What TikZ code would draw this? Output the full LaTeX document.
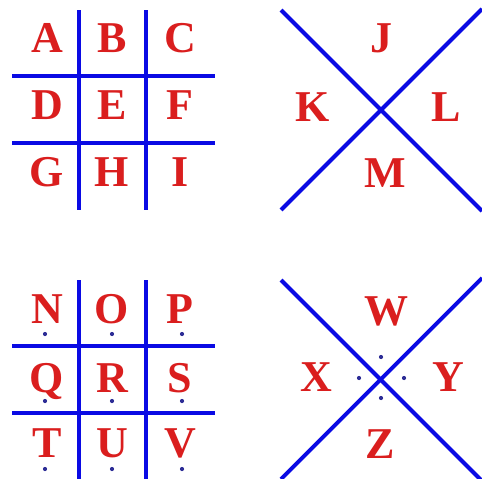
\documentclass[tikz,border=0pt]{standalone}
\usepackage{fontspec}
\setmainfont{Liberation Serif}
\definecolor{letred}{RGB}{218,30,30}
\definecolor{lineblue}{RGB}{10,10,228}
\definecolor{dotblue}{RGB}{45,45,150}
\begin{document}
\begin{tikzpicture}[x=1pt,y=-1pt,
  letter/.style={anchor=base,inner sep=0pt,text=letred,font=\fontsize{44}{44}\selectfont\bfseries},
  gridline/.style={draw=lineblue,line width=3.9pt},
  pdot/.style={fill=dotblue,draw=none}]
\useasboundingbox[fill=white] (0,0) rectangle (482,479);
% ---------- top-left grid ----------
\coordinate (g1v1t) at (79,10);  \coordinate (g1v1b) at (79,210);
\coordinate (g1v2t) at (146,10); \coordinate (g1v2b) at (146,210);
\coordinate (g1h1l) at (12,76);  \coordinate (g1h1r) at (215,76);
\coordinate (g1h2l) at (12,143); \coordinate (g1h2r) at (215,143);
\draw[gridline] (g1v1t) -- (g1v1b);
\draw[gridline] (g1v2t) -- (g1v2b);
\draw[gridline] (g1h1l) -- (g1h1r);
\draw[gridline] (g1h2l) -- (g1h2r);
\node[letter] (A) at (47,52) {A};
\node[letter] (B) at (112,52) {B};
\node[letter] (C) at (180,52) {C};
\node[letter] (D) at (47,119) {D};
\node[letter] (E) at (112,119) {E};
\node[letter] (F) at (180,119) {F};
\node[letter] (G) at (47,186) {G};
\node[letter] (H) at (112,186) {H};
\node[letter] (I) at (180,186) {I};
% ---------- top-right X ----------
\coordinate (x1a) at (281,10);  \coordinate (x1b) at (482,211);
\coordinate (x1c) at (281,210); \coordinate (x1d) at (482,9);
\draw[gridline] (x1a) -- (x1b);
\draw[gridline] (x1c) -- (x1d);
\node[letter] (J) at (381,52) {J};
\node[letter] (K) at (313,121) {K};
\node[letter] (L) at (446,121) {L};
\node[letter] (M) at (385,187) {M};
% ---------- bottom-left grid ----------
\coordinate (g2v1t) at (79,280);  \coordinate (g2v1b) at (79,479);
\coordinate (g2v2t) at (146,280); \coordinate (g2v2b) at (146,479);
\coordinate (g2h1l) at (12,346);  \coordinate (g2h1r) at (215,346);
\coordinate (g2h2l) at (12,413);  \coordinate (g2h2r) at (215,413);
\draw[gridline] (g2v1t) -- (g2v1b);
\draw[gridline] (g2v2t) -- (g2v2b);
\draw[gridline] (g2h1l) -- (g2h1r);
\draw[gridline] (g2h2l) -- (g2h2r);
\node[letter] (N) at (47,323) {N};
\node[letter] (O) at (112,323) {O};
\node[letter] (P) at (180,323) {P};
\node[letter] (Q) at (47,392) {Q};
\node[letter] (R) at (112,392) {R};
\node[letter] (S) at (180,392) {S};
\node[letter] (T) at (47,457) {T};
\node[letter] (U) at (112,457) {U};
\node[letter] (V) at (180,457) {V};
\foreach \px in {45,112,182}{
  \foreach \py in {334,401,469}{
    \fill[pdot] (\px,\py) circle (2.1);
  }
}
% ---------- bottom-right X ----------
\coordinate (x2a) at (281,280); \coordinate (x2b) at (482,481);
\coordinate (x2c) at (281,479); \coordinate (x2d) at (482,278);
\draw[gridline] (x2a) -- (x2b);
\draw[gridline] (x2c) -- (x2d);
\node[letter] (W) at (386,325) {W};
\node[letter] (X) at (316,391) {X};
\node[letter] (Y) at (448,391) {Y};
\node[letter] (Z) at (380,458) {Z};
\fill[pdot] (381,357) circle (2.1);
\fill[pdot] (359,378) circle (2.1);
\fill[pdot] (404,378) circle (2.1);
\fill[pdot] (381,398) circle (2.1);
\end{tikzpicture}
\end{document}
